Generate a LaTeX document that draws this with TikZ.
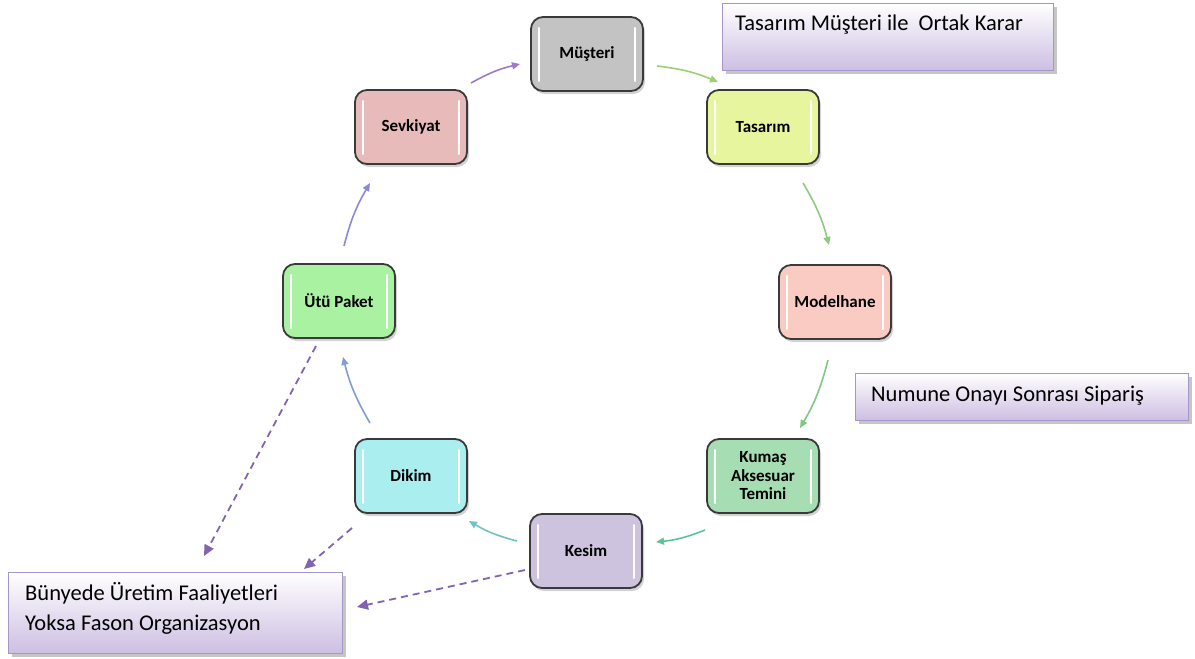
\documentclass[tikz,border=0pt]{standalone}
\usepackage{fontspec}
\setmainfont{Carlito}
\usetikzlibrary{arrows.meta,shadows,calc}

\definecolor{boxedge}{HTML}{3A3A3A}
\definecolor{cMus}{HTML}{C3C3C3}
\definecolor{cTas}{HTML}{E6F59E}
\definecolor{cMod}{HTML}{FACBC3}
\definecolor{cKum}{HTML}{A6DDB2}
\definecolor{cKes}{HTML}{CEC3DE}
\definecolor{cDik}{HTML}{AAEEF0}
\definecolor{cUtu}{HTML}{A9F2A2}
\definecolor{cSev}{HTML}{E8BBBB}
\definecolor{noteedge}{HTML}{A597C9}
\definecolor{notebot}{HTML}{CDBFE2}
\definecolor{dashpurple}{HTML}{8064B0}
\definecolor{aA}{HTML}{9CCF70}
\definecolor{aB}{HTML}{8DCB7C}
\definecolor{aC}{HTML}{80C982}
\definecolor{aD}{HTML}{5EC29C}
\definecolor{aE}{HTML}{70C2C6}
\definecolor{aF}{HTML}{809FD0}
\definecolor{aG}{HTML}{8A88D8}
\definecolor{aH}{HTML}{9B7ACB}

\tikzset{
  stepbox/.style={draw=boxedge, line width=1.8pt, rounded corners=12pt,
    minimum width=112pt, minimum height=74pt, inner sep=2pt, align=center,
    font=\fontsize{17}{18.5}\selectfont\bfseries,
    drop shadow={opacity=0.35, shadow xshift=2pt, shadow yshift=-3pt}},
  shine/.style={white, line width=2.6pt, line cap=round},
  notebox/.style={draw=noteedge, line width=1pt, top color=white, bottom color=notebot,
    drop shadow={opacity=0.45, shadow xshift=4pt, shadow yshift=-4pt}},
  notetext/.style={anchor=west, inner sep=0pt, align=left,
    font=\fontsize{22.5}{30}\selectfont},
  flow/.style={line width=1.6pt, -{Triangle[length=8pt,width=7pt]}},
  fason/.style={dashpurple, line width=1.8pt, dash pattern=on 7pt off 5pt,
    -{Triangle[length=11pt,width=10pt]}}
}

% one process step with its two white glints
\newcommand{\procstep}[4]{%
  \node[stepbox, fill=#3] (#1) at #2 {#4};
  \draw[shine] ($(#1.north west)+(9pt,-12pt)$) -- ($(#1.south west)+(9pt,11pt)$);
  \draw[shine] ($(#1.north east)+(-9pt,-12pt)$) -- ($(#1.south east)+(-9pt,11pt)$);
}

\begin{document}
\begin{tikzpicture}[x=1pt,y=1pt]
\useasboundingbox (0,0) rectangle (1195,-659);

% explanatory notes
\node[notebox, minimum width=331pt, minimum height=67pt] (noteTas) at (887.5,-36.5) {};
\node[notetext] (noteTasT) at (735,-25) {Tasarım Müşteri ile\ \ Ortak Karar};

\node[notebox, minimum width=333pt, minimum height=47pt] (noteNum) at (1021.5,-396.5) {};
\node[notetext] (noteNumT) at (871,-396) {Numune Onayı Sonrası Sipariş};

\node[notebox, minimum width=334pt, minimum height=81pt] (noteFas) at (175,-612.5) {};
\node[notetext] (noteFasT) at (25,-608) {Bünyede Üretim Faaliyetleri\\Yoksa Fason Organizasyon};

% process ring
\procstep{mus}{(587,-54)}{cMus}{Müşteri}
\procstep{tas}{(763,-127)}{cTas}{Tasarım}
\procstep{mod}{(835,-302)}{cMod}{Modelhane}
\procstep{kum}{(763,-476)}{cKum}{Kumaş\\Aksesuar\\Temini}
\procstep{kes}{(586,-551)}{cKes}{Kesim}
\procstep{dik}{(411,-476)}{cDik}{Dikim}
\procstep{utu}{(339,-301)}{cUtu}{Ütü Paket}
\procstep{sev}{(411,-127)}{cSev}{Sevkiyat}

% arrow end points between the steps
\coordinate (a1) at (657,-66);  \coordinate (b1) at (718,-82);
\coordinate (a2) at (803,-183); \coordinate (b2) at (829,-245);
\coordinate (a3) at (828,-360); \coordinate (b3) at (800,-428);
\coordinate (a4) at (705,-530); \coordinate (b4) at (656,-542);
\coordinate (a5) at (517,-541); \coordinate (b5) at (469,-521);
\coordinate (a6) at (370,-423); \coordinate (b6) at (343,-357);
\coordinate (a7) at (344,-246); \coordinate (b7) at (370,-183);
\coordinate (a8) at (471,-83);  \coordinate (b8) at (520,-64);

\draw[flow, aA] (a1) to[bend left=8] (b1);
\draw[flow, aB] (a2) to[bend left=8] (b2);
\draw[flow, aC] (a3) to[bend left=8] (b3);
\draw[flow, aD] (a4) to[bend left=8] (b4);
\draw[flow, aE] (a5) to[bend left=8] (b5);
\draw[flow, aF] (a6) to[bend left=8] (b6);
\draw[flow, aG] (a7) to[bend left=8] (b7);
\draw[flow, aH] (a8) to[bend left=8] (b8);

% outsourcing links
\coordinate (f1) at (316,-346); \coordinate (g1) at (204,-556);
\coordinate (f2) at (352,-528); \coordinate (g2) at (304,-569);
\coordinate (f3) at (525,-570); \coordinate (g3) at (357,-607);
\draw[fason] (f1) -- (g1);
\draw[fason] (f2) -- (g2);
\draw[fason] (f3) -- (g3);
\end{tikzpicture}
\end{document}
